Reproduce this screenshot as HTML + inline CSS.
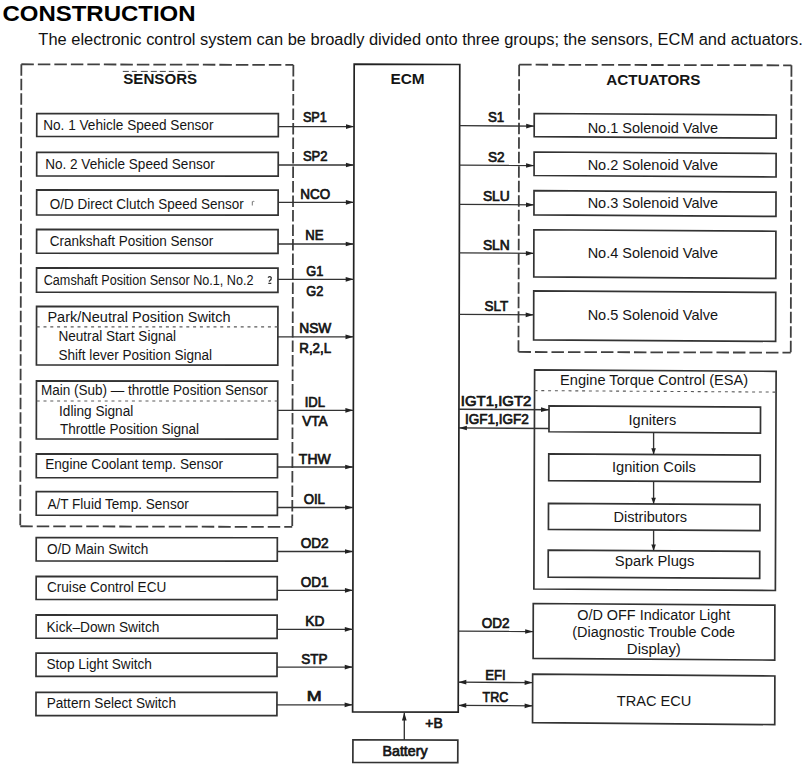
<!DOCTYPE html>
<html><head><meta charset="utf-8"><title>Construction</title>
<style>html,body{margin:0;padding:0;background:#fff;}svg{display:block;font-family:"Liberation Sans", sans-serif;}</style>
</head><body>
<svg width="810" height="770" viewBox="0 0 810 770">
<rect width="810" height="770" fill="#fff"/>
<line x1="21.35" y1="64.27" x2="293.35" y2="64.93" stroke="#404040" stroke-width="1.8" stroke-dasharray="12.5 4"/>
<line x1="20.25" y1="526.27" x2="292.25" y2="526.93" stroke="#404040" stroke-width="1.8" stroke-dasharray="12.5 4"/>
<line x1="21.35" y1="64.27" x2="20.25" y2="526.27" stroke="#404040" stroke-width="1.8" stroke-dasharray="11.5 3"/>
<line x1="293.35" y1="64.93" x2="292.25" y2="526.93" stroke="#404040" stroke-width="1.8" stroke-dasharray="11.5 3"/>
<line x1="519.14" y1="64.67" x2="791.44" y2="65.33" stroke="#404040" stroke-width="1.8" stroke-dasharray="12.5 4"/>
<line x1="518.46" y1="351.97" x2="790.76" y2="352.63" stroke="#404040" stroke-width="1.8" stroke-dasharray="12.5 4"/>
<line x1="519.14" y1="64.67" x2="518.46" y2="351.97" stroke="#404040" stroke-width="1.8" stroke-dasharray="11.5 3"/>
<line x1="791.44" y1="65.33" x2="790.76" y2="352.63" stroke="#404040" stroke-width="1.8" stroke-dasharray="11.5 3"/>
<polygon points="354.18,64.22 459.78,64.48 458.22,712.13 352.62,711.87" fill="none" stroke="#222" stroke-width="1.7" stroke-linejoin="miter"/>
<polygon points="352.93,739.77 457.83,740.03 457.77,762.63 352.87,762.37" fill="none" stroke="#333" stroke-width="1.7" stroke-linejoin="miter"/>
<line x1="404.3" y1="740" x2="404.3" y2="713" stroke="#333" stroke-width="1.35"/>
<polygon points="404.3,712.5 401.95,720.5 406.65000000000003,720.5" fill="#222"/>
<polygon points="36.78,113.56 278.36,113.64 278.3,136.54 36.72,136.46" fill="none" stroke="#333" stroke-width="1.7" stroke-linejoin="miter"/>
<line x1="278.33" y1="126.6" x2="354.03" y2="126.6" stroke="#333" stroke-width="1.35"/>
<polygon points="354.03,126.6 346.03,124.25 346.03,128.95" fill="#222"/>
<polygon points="36.73,152.26 278.26,152.34 278.2,176.04 36.67,175.96" fill="none" stroke="#333" stroke-width="1.7" stroke-linejoin="miter"/>
<line x1="278.23" y1="165" x2="353.94" y2="165" stroke="#333" stroke-width="1.35"/>
<polygon points="353.94,165 345.94,162.65 345.94,167.35" fill="#222"/>
<polygon points="36.68,189.96 278.17,190.04 278.11,215.04 36.62,214.96" fill="none" stroke="#333" stroke-width="1.7" stroke-linejoin="miter"/>
<line x1="278.14" y1="202.3" x2="353.85" y2="202.3" stroke="#333" stroke-width="1.35"/>
<polygon points="353.85,202.3 345.85,199.95000000000002 345.85,204.65" fill="#222"/>
<polygon points="36.63,229.46 278.08,229.54 278.02,253.34 36.57,253.26" fill="none" stroke="#333" stroke-width="1.7" stroke-linejoin="miter"/>
<line x1="278.05" y1="244" x2="353.75" y2="244" stroke="#333" stroke-width="1.35"/>
<polygon points="353.75,244 345.75,241.65 345.75,246.35" fill="#222"/>
<polygon points="36.58,267.96 277.99,268.04 277.93,292.34 36.52,292.26" fill="none" stroke="#333" stroke-width="1.7" stroke-linejoin="miter"/>
<line x1="277.96" y1="279.3" x2="353.66" y2="279.3" stroke="#333" stroke-width="1.35"/>
<polygon points="353.66,279.3 345.66,276.95 345.66,281.65000000000003" fill="#222"/>
<polygon points="36.57,306.46 277.93,306.54 277.79,365.04 36.43,364.96" fill="none" stroke="#333" stroke-width="1.7" stroke-linejoin="miter"/>
<line x1="277.86" y1="336.8" x2="353.52" y2="336.8" stroke="#333" stroke-width="1.35"/>
<polygon points="353.52,336.8 345.52,334.45 345.52,339.15000000000003" fill="#222"/>
<polygon points="36.47,380.96 277.76,381.04 277.62,439.04 36.33,438.96" fill="none" stroke="#333" stroke-width="1.7" stroke-linejoin="miter"/>
<line x1="277.69" y1="410.3" x2="353.35" y2="410.3" stroke="#333" stroke-width="1.35"/>
<polygon points="353.35,410.3 345.35,407.95 345.35,412.65000000000003" fill="#222"/>
<polygon points="36.34,453.96 277.54,454.04 277.48,477.74 36.28,477.66" fill="none" stroke="#333" stroke-width="1.7" stroke-linejoin="miter"/>
<line x1="277.51" y1="467" x2="353.21" y2="467" stroke="#333" stroke-width="1.35"/>
<polygon points="353.21,467 345.21,464.65 345.21,469.35" fill="#222"/>
<polygon points="36.29,491.66 277.45,491.74 277.39,515.34 36.23,515.26" fill="none" stroke="#333" stroke-width="1.7" stroke-linejoin="miter"/>
<line x1="277.42" y1="507.5" x2="353.11" y2="507.5" stroke="#333" stroke-width="1.35"/>
<polygon points="353.11,507.5 345.11,505.15 345.11,509.85" fill="#222"/>
<polygon points="36.23,537.66 277.34,537.74 277.28,561.04 36.17,560.96" fill="none" stroke="#333" stroke-width="1.7" stroke-linejoin="miter"/>
<line x1="277.31" y1="551.5" x2="353.01" y2="551.5" stroke="#333" stroke-width="1.35"/>
<polygon points="353.01,551.5 345.01,549.15 345.01,553.85" fill="#222"/>
<polygon points="36.18,576.46 277.25,576.54 277.19,599.54 36.12,599.46" fill="none" stroke="#333" stroke-width="1.7" stroke-linejoin="miter"/>
<line x1="277.22" y1="590.3" x2="352.91" y2="590.3" stroke="#333" stroke-width="1.35"/>
<polygon points="352.91,590.3 344.91,587.9499999999999 344.91,592.65" fill="#222"/>
<polygon points="36.13,614.96 277.15,615.04 277.09,638.34 36.07,638.26" fill="none" stroke="#333" stroke-width="1.7" stroke-linejoin="miter"/>
<line x1="277.12" y1="629.3" x2="352.82" y2="629.3" stroke="#333" stroke-width="1.35"/>
<polygon points="352.82,629.3 344.82,626.9499999999999 344.82,631.65" fill="#222"/>
<polygon points="36.08,653.06 277.06,653.14 277.0,676.44 36.02,676.36" fill="none" stroke="#333" stroke-width="1.7" stroke-linejoin="miter"/>
<line x1="277.03" y1="667.1" x2="352.73" y2="667.1" stroke="#333" stroke-width="1.35"/>
<polygon points="352.73,667.1 344.73,664.75 344.73,669.45" fill="#222"/>
<polygon points="36.03,692.26 276.97,692.34 276.91,715.64 35.97,715.56" fill="none" stroke="#333" stroke-width="1.7" stroke-linejoin="miter"/>
<line x1="276.94" y1="704.8" x2="352.64" y2="704.8" stroke="#333" stroke-width="1.35"/>
<polygon points="352.64,704.8 344.64,702.4499999999999 344.64,707.15" fill="#222"/>
<line x1="36.7" y1="326.9" x2="278.3" y2="326.9" stroke="#5a5a5a" stroke-width="1.1" stroke-dasharray="3 3.8"/>
<line x1="36.7" y1="401" x2="278.3" y2="401" stroke="#5a5a5a" stroke-width="1.1" stroke-dasharray="3 3.8"/>
<polygon points="534.23,113.5 776.23,115.0 776.17,138.15 534.17,136.65" fill="none" stroke="#333" stroke-width="1.7" stroke-linejoin="miter"/>
<line x1="459.63" y1="125.67" x2="534.2" y2="126.13" stroke="#333" stroke-width="1.35"/>
<polygon points="534.2,126.10000000000001 526.2,123.75000000000001 526.2,128.45000000000002" fill="#222"/>
<polygon points="534.12,152.0 776.12,153.5 776.06,177.0 534.06,175.5" fill="none" stroke="#333" stroke-width="1.7" stroke-linejoin="miter"/>
<line x1="459.53" y1="165.07" x2="534.09" y2="165.53" stroke="#333" stroke-width="1.35"/>
<polygon points="534.09,165.5 526.09,163.15 526.09,167.85" fill="#222"/>
<polygon points="534.02,190.65 776.02,192.15 775.96,216.45 533.96,214.95" fill="none" stroke="#333" stroke-width="1.7" stroke-linejoin="miter"/>
<line x1="459.44" y1="204.37" x2="533.99" y2="204.83" stroke="#333" stroke-width="1.35"/>
<polygon points="533.99,204.79999999999998 525.99,202.45 525.99,207.14999999999998" fill="#222"/>
<polygon points="533.91,229.75 775.91,231.25 775.79,278.45 533.79,276.95" fill="none" stroke="#333" stroke-width="1.7" stroke-linejoin="miter"/>
<line x1="459.32" y1="252.87" x2="533.85" y2="253.33" stroke="#333" stroke-width="1.35"/>
<polygon points="533.85,253.29999999999998 525.85,250.95 525.85,255.64999999999998" fill="#222"/>
<polygon points="533.74,290.95 775.74,292.45 775.62,341.35 533.62,339.85" fill="none" stroke="#333" stroke-width="1.7" stroke-linejoin="miter"/>
<line x1="459.18" y1="314.37" x2="533.68" y2="314.83" stroke="#333" stroke-width="1.35"/>
<polygon points="533.68,314.8 525.68,312.45 525.68,317.15000000000003" fill="#222"/>
<polygon points="534.63,369.85 776.13,371.35 775.37,590.5 533.87,589.0" fill="none" stroke="#333" stroke-width="1.7" stroke-linejoin="miter"/>
<line x1="534.5" y1="390.6" x2="776" y2="392.1" stroke="#5a5a5a" stroke-width="1.1" stroke-dasharray="3 3.8"/>
<polygon points="549.03,405.84 760.53,407.16 760.47,433.06 548.97,431.74" fill="none" stroke="#333" stroke-width="1.7" stroke-linejoin="miter"/>
<polygon points="548.77,453.84 760.27,455.16 760.21,481.86 548.71,480.54" fill="none" stroke="#333" stroke-width="1.7" stroke-linejoin="miter"/>
<polygon points="548.5,503.34 760.0,504.66 759.94,530.66 548.44,529.34" fill="none" stroke="#333" stroke-width="1.7" stroke-linejoin="miter"/>
<polygon points="548.24,550.09 759.74,551.41 759.68,578.41 548.18,577.09" fill="none" stroke="#333" stroke-width="1.7" stroke-linejoin="miter"/>
<line x1="653.6" y1="432.4" x2="653.6" y2="454.5" stroke="#333" stroke-width="1.35"/>
<polygon points="653.6,454.5 651.3000000000001,448.3 655.9,448.3" fill="#222"/>
<line x1="653.6" y1="481.2" x2="653.6" y2="504" stroke="#333" stroke-width="1.35"/>
<polygon points="653.6,504 651.3000000000001,497.8 655.9,497.8" fill="#222"/>
<line x1="653.6" y1="530" x2="653.6" y2="550.75" stroke="#333" stroke-width="1.35"/>
<polygon points="653.6,550.75 651.3000000000001,544.55 655.9,544.55" fill="#222"/>
<line x1="458.95" y1="409.22" x2="549" y2="409.78" stroke="#333" stroke-width="1.35"/>
<polygon points="549,409.7 541.0,407.34999999999997 541.0,412.05" fill="#222"/>
<line x1="458.9" y1="427.92" x2="549" y2="428.48" stroke="#333" stroke-width="1.35"/>
<polygon points="458.9,428 466.9,425.65 466.9,430.35" fill="#222"/>
<polygon points="533.27,603.5 774.87,605.2 774.73,660.1 533.13,658.4" fill="none" stroke="#333" stroke-width="1.7" stroke-linejoin="miter"/>
<line x1="458.42" y1="631.07" x2="533.2" y2="631.53" stroke="#333" stroke-width="1.35"/>
<polygon points="533.2,631.5 525.2,629.15 525.2,633.85" fill="#222"/>
<polygon points="532.66,674.03 774.86,675.97 774.74,724.62 532.54,722.68" fill="none" stroke="#333" stroke-width="1.7" stroke-linejoin="miter"/>
<line x1="458.29" y1="682.17" x2="532.6" y2="682.63" stroke="#333" stroke-width="1.35"/>
<polygon points="532.6,682.6 524.6,680.25 524.6,684.95" fill="#222"/>
<polygon points="458.29,682.2 466.29,679.85 466.29,684.5500000000001" fill="#222"/>
<line x1="458.24" y1="705.37" x2="532.6" y2="705.83" stroke="#333" stroke-width="1.35"/>
<polygon points="532.6,705.8 524.6,703.4499999999999 524.6,708.15" fill="#222"/>
<polygon points="458.24,705.4 466.24,703.05 466.24,707.75" fill="#222"/>
<path d="M252.3 201.5v4M252.3 202q1-1 2-.5" stroke="#666" stroke-width="0.9" fill="none"/>
<path d="M268 277.6q1.800-2 3.300 0q0.400 1.800-1.900 3.300v0.800M268.300 283.400h3" stroke="#333" stroke-width="1.25" fill="none"/>
<line x1="122.8" y1="71.4" x2="191.6" y2="71.4" stroke="#444" stroke-width="1" stroke-dasharray="6 3 5 4 7 3 6 3"/>
<text x="2.44" y="20.8" font-size="22.5" font-weight="bold" textLength="193.13" lengthAdjust="spacingAndGlyphs" fill="#000">CONSTRUCTION</text>
<text x="38.38" y="44.8" font-size="16" textLength="764.44" lengthAdjust="spacingAndGlyphs" fill="#111">The electronic control system can be broadly divided onto three groups; the sensors, ECM and actuators.</text>
<text x="123.30" y="84" font-size="15" font-weight="bold" textLength="73.89" lengthAdjust="spacingAndGlyphs" fill="#151515">SENSORS</text>
<text x="606.39" y="85.4" font-size="15" font-weight="bold" textLength="94.15" lengthAdjust="spacingAndGlyphs" fill="#151515">ACTUATORS</text>
<text x="390.41" y="83.7" font-size="14.5" font-weight="bold" textLength="34.22" lengthAdjust="spacingAndGlyphs" fill="#151515">ECM</text>
<text x="382.54" y="756.2" font-size="13.8" stroke="#151515" stroke-width="0.7" textLength="45.02" lengthAdjust="spacingAndGlyphs" fill="#151515">Battery</text>
<text x="425.39" y="728.2" font-size="13.8" stroke="#151515" stroke-width="0.7" textLength="17.37" lengthAdjust="spacingAndGlyphs" fill="#151515">+B</text>
<text x="302.91" y="122.2" font-size="13.8" stroke="#151515" stroke-width="0.7" textLength="23.98" lengthAdjust="spacingAndGlyphs" fill="#151515">SP1</text>
<text x="302.90" y="161.2" font-size="13.8" stroke="#151515" stroke-width="0.7" textLength="24.60" lengthAdjust="spacingAndGlyphs" fill="#151515">SP2</text>
<text x="300.29" y="198.8" font-size="13.8" stroke="#151515" stroke-width="0.7" textLength="29.88" lengthAdjust="spacingAndGlyphs" fill="#151515">NCO</text>
<text x="305.30" y="239.8" font-size="13.8" stroke="#151515" stroke-width="0.7" textLength="18.25" lengthAdjust="spacingAndGlyphs" fill="#151515">NE</text>
<text x="306.35" y="275.5" font-size="13.8" stroke="#151515" stroke-width="0.7" textLength="17.07" lengthAdjust="spacingAndGlyphs" fill="#151515">G1</text>
<text x="306.35" y="295.5" font-size="13.8" stroke="#151515" stroke-width="0.7" textLength="17.08" lengthAdjust="spacingAndGlyphs" fill="#151515">G2</text>
<text x="299.27" y="332.8" font-size="13.8" stroke="#151515" stroke-width="0.7" textLength="32.05" lengthAdjust="spacingAndGlyphs" fill="#151515">NSW</text>
<text x="299.29" y="352.8" font-size="13.8" stroke="#151515" stroke-width="0.7" textLength="31.83" lengthAdjust="spacingAndGlyphs" fill="#151515">R,2,L</text>
<text x="304.65" y="406.5" font-size="13.8" stroke="#151515" stroke-width="0.7" textLength="20.38" lengthAdjust="spacingAndGlyphs" fill="#151515">IDL</text>
<text x="302.21" y="426.2" font-size="13.8" stroke="#151515" stroke-width="0.7" textLength="25.44" lengthAdjust="spacingAndGlyphs" fill="#151515">VTA</text>
<text x="298.89" y="464.0" font-size="13.8" stroke="#151515" stroke-width="0.7" textLength="31.74" lengthAdjust="spacingAndGlyphs" fill="#151515">THW</text>
<text x="303.65" y="504.0" font-size="13.8" stroke="#151515" stroke-width="0.7" textLength="21.35" lengthAdjust="spacingAndGlyphs" fill="#151515">OIL</text>
<text x="300.64" y="548.0" font-size="13.8" stroke="#151515" stroke-width="0.7" textLength="27.97" lengthAdjust="spacingAndGlyphs" fill="#151515">OD2</text>
<text x="300.65" y="587.2" font-size="13.8" stroke="#151515" stroke-width="0.7" textLength="27.75" lengthAdjust="spacingAndGlyphs" fill="#151515">OD1</text>
<text x="305.27" y="625.5" font-size="13.8" stroke="#151515" stroke-width="0.7" textLength="19.07" lengthAdjust="spacingAndGlyphs" fill="#151515">KD</text>
<text x="301.29" y="663.8" font-size="13.8" stroke="#151515" stroke-width="0.7" textLength="26.23" lengthAdjust="spacingAndGlyphs" fill="#151515">STP</text>
<text x="306.75" y="700.5" font-size="13.8" stroke="#151515" stroke-width="0.7" textLength="14.87" lengthAdjust="spacingAndGlyphs" fill="#151515">M</text>
<text x="43.19" y="130.4" font-size="14" textLength="170.28" lengthAdjust="spacingAndGlyphs" fill="#151515">No. 1 Vehicle Speed Sensor</text>
<text x="45.19" y="169.4" font-size="14" textLength="169.57" lengthAdjust="spacingAndGlyphs" fill="#151515">No. 2 Vehicle Speed Sensor</text>
<text x="49.73" y="209.4" font-size="14" textLength="193.99" lengthAdjust="spacingAndGlyphs" fill="#151515">O/D Direct Clutch Speed Sensor</text>
<text x="49.68" y="245.9" font-size="14" textLength="163.65" lengthAdjust="spacingAndGlyphs" fill="#151515">Crankshaft Position Sensor</text>
<text x="43.73" y="285.4" font-size="14" textLength="209.82" lengthAdjust="spacingAndGlyphs" fill="#151515">Camshaft Position Sensor No.1, No.2</text>
<text x="47.41" y="321.9" font-size="14" textLength="183.08" lengthAdjust="spacingAndGlyphs" fill="#151515">Park/Neutral Position Switch</text>
<text x="58.49" y="341.4" font-size="14" textLength="117.58" lengthAdjust="spacingAndGlyphs" fill="#151515">Neutral Start Signal</text>
<text x="58.50" y="360.0" font-size="14" textLength="153.61" lengthAdjust="spacingAndGlyphs" fill="#151515">Shift lever Position Signal</text>
<text x="40.90" y="394.7" font-size="14" textLength="226.88" lengthAdjust="spacingAndGlyphs" fill="#151515">Main (Sub) — throttle Position Sensor</text>
<text x="59.08" y="415.9" font-size="14" textLength="74.18" lengthAdjust="spacingAndGlyphs" fill="#151515">Idling Signal</text>
<text x="60.06" y="434.4" font-size="14" textLength="138.94" lengthAdjust="spacingAndGlyphs" fill="#151515">Throttle Position Signal</text>
<text x="45.19" y="469.4" font-size="14" textLength="177.89" lengthAdjust="spacingAndGlyphs" fill="#151515">Engine Coolant temp. Sensor</text>
<text x="47.39" y="508.7" font-size="14" textLength="141.38" lengthAdjust="spacingAndGlyphs" fill="#151515">A/T Fluid Temp. Sensor</text>
<text x="47.03" y="554.4" font-size="14" textLength="101.25" lengthAdjust="spacingAndGlyphs" fill="#151515">O/D Main Switch</text>
<text x="46.98" y="592.1" font-size="14" textLength="119.33" lengthAdjust="spacingAndGlyphs" fill="#151515">Cruise Control ECU</text>
<text x="46.48" y="632.1" font-size="14" textLength="112.91" lengthAdjust="spacingAndGlyphs" fill="#151515">Kick–Down Switch</text>
<text x="46.49" y="669.4" font-size="14" textLength="105.41" lengthAdjust="spacingAndGlyphs" fill="#151515">Stop Light Switch</text>
<text x="46.69" y="707.9" font-size="14" textLength="129.30" lengthAdjust="spacingAndGlyphs" fill="#151515">Pattern Select Switch</text>
<text x="587.64" y="133.0" font-size="15" textLength="130.46" lengthAdjust="spacingAndGlyphs" fill="#151515">No.1 Solenoid Valve</text>
<text x="487.89" y="122.2" font-size="13.8" stroke="#151515" stroke-width="0.7" textLength="16.27" lengthAdjust="spacingAndGlyphs" fill="#151515">S1</text>
<text x="587.64" y="170.2" font-size="15" textLength="130.46" lengthAdjust="spacingAndGlyphs" fill="#151515">No.2 Solenoid Valve</text>
<text x="487.88" y="161.5" font-size="13.8" stroke="#151515" stroke-width="0.7" textLength="16.60" lengthAdjust="spacingAndGlyphs" fill="#151515">S2</text>
<text x="587.64" y="208.0" font-size="15" textLength="130.46" lengthAdjust="spacingAndGlyphs" fill="#151515">No.3 Solenoid Valve</text>
<text x="482.88" y="201.2" font-size="13.8" stroke="#151515" stroke-width="0.7" textLength="26.88" lengthAdjust="spacingAndGlyphs" fill="#151515">SLU</text>
<text x="587.64" y="258.2" font-size="15" textLength="130.46" lengthAdjust="spacingAndGlyphs" fill="#151515">No.4 Solenoid Valve</text>
<text x="482.88" y="249.5" font-size="13.8" stroke="#151515" stroke-width="0.7" textLength="26.91" lengthAdjust="spacingAndGlyphs" fill="#151515">SLN</text>
<text x="587.64" y="320.4" font-size="15" textLength="130.46" lengthAdjust="spacingAndGlyphs" fill="#151515">No.5 Solenoid Valve</text>
<text x="484.59" y="311.2" font-size="13.8" stroke="#151515" stroke-width="0.7" textLength="23.62" lengthAdjust="spacingAndGlyphs" fill="#151515">SLT</text>
<text x="560.10" y="385.2" font-size="14" textLength="188.08" lengthAdjust="spacingAndGlyphs" fill="#151515">Engine Torque Control (ESA)</text>
<text x="628.59" y="425.2" font-size="14" textLength="47.61" lengthAdjust="spacingAndGlyphs" fill="#151515">Igniters</text>
<text x="611.97" y="472.4" font-size="14" textLength="83.96" lengthAdjust="spacingAndGlyphs" fill="#151515">Ignition Coils</text>
<text x="613.50" y="521.7" font-size="14" textLength="73.59" lengthAdjust="spacingAndGlyphs" fill="#151515">Distributors</text>
<text x="614.89" y="566.2" font-size="14" textLength="79.57" lengthAdjust="spacingAndGlyphs" fill="#151515">Spark Plugs</text>
<text x="460.80" y="405.5" font-size="13.8" stroke="#151515" stroke-width="0.7" textLength="70.53" lengthAdjust="spacingAndGlyphs" fill="#151515">IGT1,IGT2</text>
<text x="464.92" y="424.3" font-size="13.8" stroke="#151515" stroke-width="0.7" textLength="63.89" lengthAdjust="spacingAndGlyphs" fill="#151515">IGF1,IGF2</text>
<text x="577.18" y="620.4" font-size="14" textLength="153.09" lengthAdjust="spacingAndGlyphs" fill="#151515">O/D OFF Indicator Light</text>
<text x="572.19" y="637.4" font-size="14" textLength="162.93" lengthAdjust="spacingAndGlyphs" fill="#151515">(Diagnostic Trouble Code</text>
<text x="626.87" y="653.7" font-size="14" textLength="54.00" lengthAdjust="spacingAndGlyphs" fill="#151515">Display)</text>
<text x="481.65" y="627.8" font-size="13.8" stroke="#151515" stroke-width="0.7" textLength="27.76" lengthAdjust="spacingAndGlyphs" fill="#151515">OD2</text>
<text x="616.72" y="705.7" font-size="15" textLength="74.62" lengthAdjust="spacingAndGlyphs" fill="#151515">TRAC ECU</text>
<text x="485.30" y="679.5" font-size="13.8" stroke="#151515" stroke-width="0.7" textLength="20.38" lengthAdjust="spacingAndGlyphs" fill="#151515">EFI</text>
<text x="482.60" y="701.5" font-size="13.8" stroke="#151515" stroke-width="0.7" textLength="25.74" lengthAdjust="spacingAndGlyphs" fill="#151515">TRC</text>
</svg>
</body></html>
